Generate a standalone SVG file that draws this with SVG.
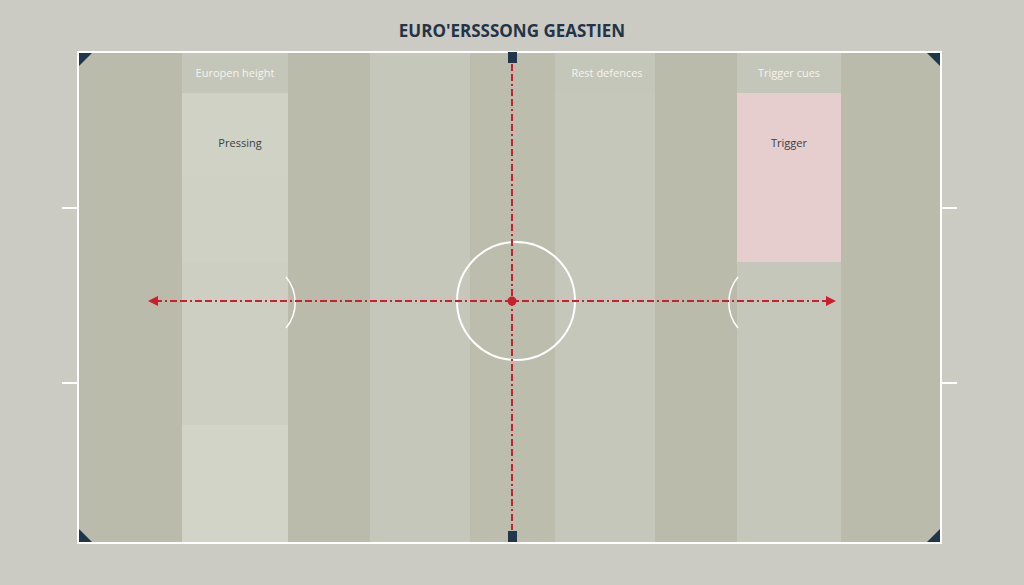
<svg xmlns="http://www.w3.org/2000/svg" width="1024" height="585" viewBox="0 0 1024 585">
  <defs>
    <style>
      .dark { fill: #babbaa; }
      .mid { fill: #c6c7bb; }
      .light { fill: #d0d2c6; }
      .band { fill: #c4c6ba; }
      .lbl { font-family: "Open Sans", "Liberation Sans", sans-serif; font-size: 11px; fill: #f4f4ee; text-anchor: middle; }
      .txt { font-family: "Open Sans", "Liberation Sans", sans-serif; font-size: 11px; fill: #3a3f44; text-anchor: middle; }
      .white { fill: none; stroke: #ffffff; stroke-width: 2; }
      .thin { fill: none; stroke: #ffffff; stroke-width: 1.5; }
      .red { fill: none; stroke: #cc1f2e; stroke-width: 2; stroke-dasharray: 7 3 7 3 2 3; }
      .navy { fill: #1f364d; }
    </style>
    <marker id="arrow" viewBox="0 0 10 10" refX="8" refY="5" markerWidth="5" markerHeight="5" orient="auto-start-reverse">
      <path d="M0,0 L10,5 L0,10 z" fill="#cc1f2e"/>
    </marker>
  </defs>
  <rect width="1024" height="585" fill="#cbcac3"/>
  <text x="512" y="37" font-family="Open Sans, Liberation Sans, sans-serif" font-weight="bold" font-size="17" fill="#243447" text-anchor="middle">EURO'ERSSSONG GEASTIEN</text>

  <g id="pitch">
    <rect class="dark" x="78" y="52" width="104" height="491"/>
    <rect class="light" x="182" y="52" width="106" height="491"/>
    <rect class="dark" x="288" y="52" width="82" height="491"/>
    <rect class="mid" x="370" y="52" width="100" height="491"/>
    <rect class="dark" x="470" y="52" width="85" height="491" fill-opacity="0.9"/>
    <rect class="mid" x="555" y="52" width="100" height="491"/>
    <rect class="dark" x="655" y="52" width="82" height="491"/>
    <rect class="mid" x="737" y="52" width="104" height="491"/>
    <rect class="dark" x="841" y="52" width="100" height="491"/>
    <rect x="182" y="175" width="106" height="87" fill="#cfd1c4"/>
    <rect x="182" y="262" width="106" height="163" fill="#cdcfc3"/>
    <rect x="182" y="425" width="106" height="118" fill="#d2d4c7"/>
  </g>

  <g id="zone-pressing">
    <rect class="band" x="182" y="52" width="106" height="41"/>
    <text class="lbl" x="235" y="77">Europen height</text>
    <text class="txt" x="240" y="147">Pressing</text>
  </g>
  <g id="zone-rest">
    <rect class="band" x="555" y="52" width="100" height="41" fill-opacity="0.5"/>
    <text class="lbl" x="607" y="77">Rest defences</text>
  </g>
  <g id="zone-trigger">
    <rect class="band" x="737" y="52" width="104" height="41"/>
    <rect x="737" y="93" width="104" height="169" fill="#e5cecd"/>
    <text class="lbl" x="789" y="77">Trigger cues</text>
    <text class="txt" x="789" y="147">Trigger</text>
  </g>

  <g id="markings">
    <rect class="white" x="78" y="52" width="863" height="491"/>
    <circle class="white" cx="516" cy="301" r="59"/>
    <path class="thin" d="M286,277 A40,40 0 0 1 286,328"/>
    <path class="thin" d="M738,277 A40,40 0 0 0 738,328"/>
    <line class="white" x1="62" y1="208" x2="78" y2="208"/>
    <line class="white" x1="62" y1="383" x2="78" y2="383"/>
    <line class="white" x1="941" y1="208" x2="957" y2="208"/>
    <line class="white" x1="941" y1="383" x2="957" y2="383"/>
    <path class="navy" d="M79,53 L92,53 L79,66 z"/>
    <path class="navy" d="M940,53 L927,53 L940,66 z"/>
    <path class="navy" d="M79,542 L92,542 L79,529 z"/>
    <path class="navy" d="M940,542 L927,542 L940,529 z"/>
    <rect class="navy" x="508" y="52" width="9" height="11"/>
    <rect class="navy" x="508" y="531" width="9" height="11"/>
  </g>

  <g id="connectors">
    <line class="red" x1="512" y1="64" x2="512" y2="530"/>
    <line class="red" x1="512" y1="301" x2="150" y2="301" marker-end="url(#arrow)"/>
    <line class="red" x1="512" y1="301" x2="834" y2="301" marker-end="url(#arrow)"/>
    <circle cx="512" cy="301" r="4.5" fill="#cc1f2e"/>
  </g>
</svg>
